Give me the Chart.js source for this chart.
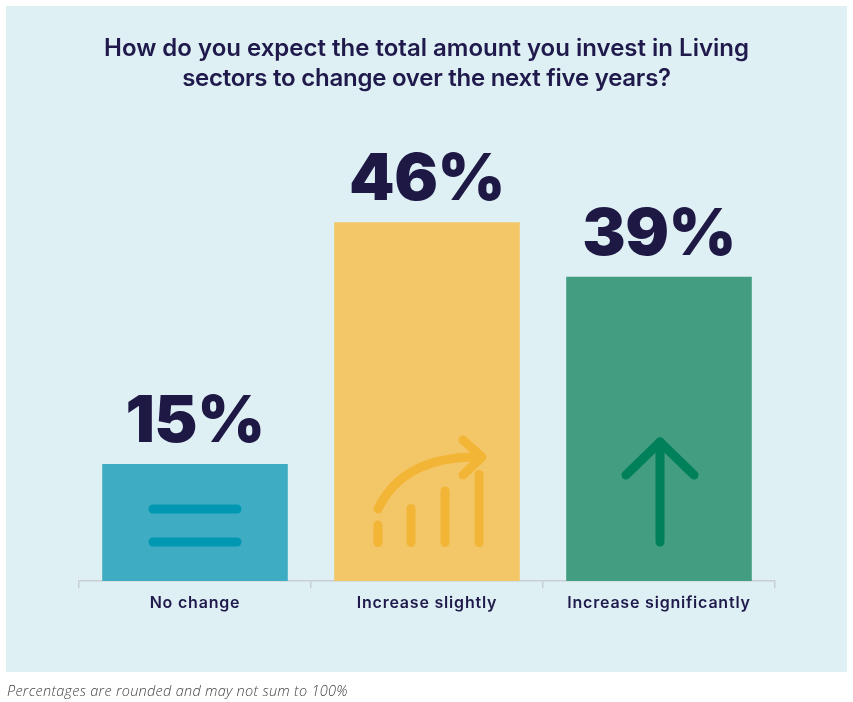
<!DOCTYPE html>
<html>
<head>
<meta charset="utf-8">
<style>
  html, body { margin: 0; padding: 0; background: #fff; }
  #panel { position: absolute; left: 6px; top: 6px; width: 841px; height: 666px; background: #dff0f5; }
  #wrap { position: absolute; left: 0; top: 0; width: 853px; height: 702px; }
  #title { position: absolute; left: 0; top: 33px; width: 853px; margin: 0; text-align: center; font: 600 24px/30px Inter, sans-serif; color: #1f1a4b; }
  #title span { display: block; }
  #title .second { letter-spacing: -0.25px; }
  #note { position: absolute; left: 7px; top: 681px; margin: 0; font: italic 300 14.5px "Open Sans", sans-serif; letter-spacing: 0.28px; color: #444; white-space: nowrap; }
</style>
</head>
<body>
<div id="panel"></div>
<div id="wrap"><canvas id="chart"></canvas></div>
<h1 id="title"><span>How do you expect the total amount you invest in Living</span><span class="second">sectors to change over the next five years?</span></h1>
<p id="note">Percentages are rounded and may not sum to 100%</p>
<script src="https://cdn.jsdelivr.net/npm/chart.js@4"></script>
<script>
const categories = ['No change', 'Increase slightly', 'Increase significantly'];
const values = [15, 46, 39];
const barColors = ['#3eacc3', '#f3c768', '#429d81'];
const iconColors = ['#0097b2', '#f2b536', '#00805a'];
const ink = '#1f1a4b';

// tick labels are wider in the original, the library has no option for this
const tickSpacing = {
  id: 'tickSpacing',
  beforeDraw(chart) {
    chart.ctx.letterSpacing = '0.8px';
  }
};

// value printed above each bar
const valueLabels = {
  id: 'valueLabels',
  afterDatasetsDraw(chart) {
    const c = chart.ctx;
    c.save();
    c.letterSpacing = '-0.5px';
    c.font = '900 65px Inter, sans-serif';
    c.fillStyle = '#1e1845';
    c.textAlign = 'center';
    c.textBaseline = 'alphabetic';
    chart.getDatasetMeta(0).data.forEach((bar, i) => {
      c.fillText(values[i] + '%', bar.x, bar.y - 22);
    });
    c.restore();
  }
};

// small pictograms sitting inside the bars, placed from the bar centre and base
const barIcons = {
  id: 'barIcons',
  afterDatasetsDraw(chart) {
    const c = chart.ctx;
    const bars = chart.getDatasetMeta(0).data;
    c.save();
    c.lineWidth = 9;
    c.lineCap = 'round';
    c.lineJoin = 'round';

    const seg = (x, y, pts) => {
      c.beginPath();
      pts.forEach((p, i) => i ? c.lineTo(x + p[0], y + p[1]) : c.moveTo(x + p[0], y + p[1]));
      c.stroke();
    };

    // equals sign
    let x = bars[0].x, y = bars[0].base;
    c.strokeStyle = iconColors[0];
    seg(x, y, [[-42, -72], [42, -72]]);
    seg(x, y, [[-42, -39], [42, -39]]);

    // rising columns with curved arrow
    x = bars[1].x; y = bars[1].base;
    c.strokeStyle = iconColors[1];
    seg(x, y, [[-49, -56], [-49, -38.5]]);
    seg(x, y, [[-16, -72.5], [-16, -38.5]]);
    seg(x, y, [[18, -90], [18, -38.5]]);
    seg(x, y, [[52, -106.5], [52, -38.5]]);
    c.beginPath();
    c.moveTo(x - 49, y - 72);
    c.bezierCurveTo(x - 32, y - 108, x + 2, y - 125, x + 54, y - 124);
    c.stroke();
    seg(x, y, [[36, -141], [55, -124], [36, -106]]);

    // up arrow
    x = bars[2].x; y = bars[2].base;
    c.strokeStyle = iconColors[2];
    seg(x, y, [[1, -39], [1, -139]]);
    seg(x, y, [[-33, -106], [1, -139], [35, -106]]);
    c.restore();
  }
};

const chart = new Chart(document.getElementById('chart'), {
  type: 'bar',
  data: {
    labels: categories,
    datasets: [{
      data: values,
      backgroundColor: barColors,
      barPercentage: 0.8,
      categoryPercentage: 1
    }]
  },
  options: {
    responsive: true,
    maintainAspectRatio: false,
    animation: false,
    layout: { padding: { left: 79, right: 78, top: 113, bottom: 0 } },
    plugins: {
      legend: { display: false },
      tooltip: { enabled: false }
    },
    scales: {
      x: {
        grid: { drawOnChartArea: false, drawTicks: true, tickLength: 7, color: '#c8ced1', lineWidth: 1.5 },
        border: { color: '#c8ced1', width: 1.5 },
        ticks: { color: ink, font: { family: 'Inter, sans-serif', size: 16, weight: '600' }, padding: 6, maxRotation: 0 },
        afterFit(scale) { scale.height = 121; }
      },
      y: { display: false, min: 0, max: 60 }
    }
  },
  plugins: [tickSpacing, valueLabels, barIcons]
});
</script>
</body>
</html>
